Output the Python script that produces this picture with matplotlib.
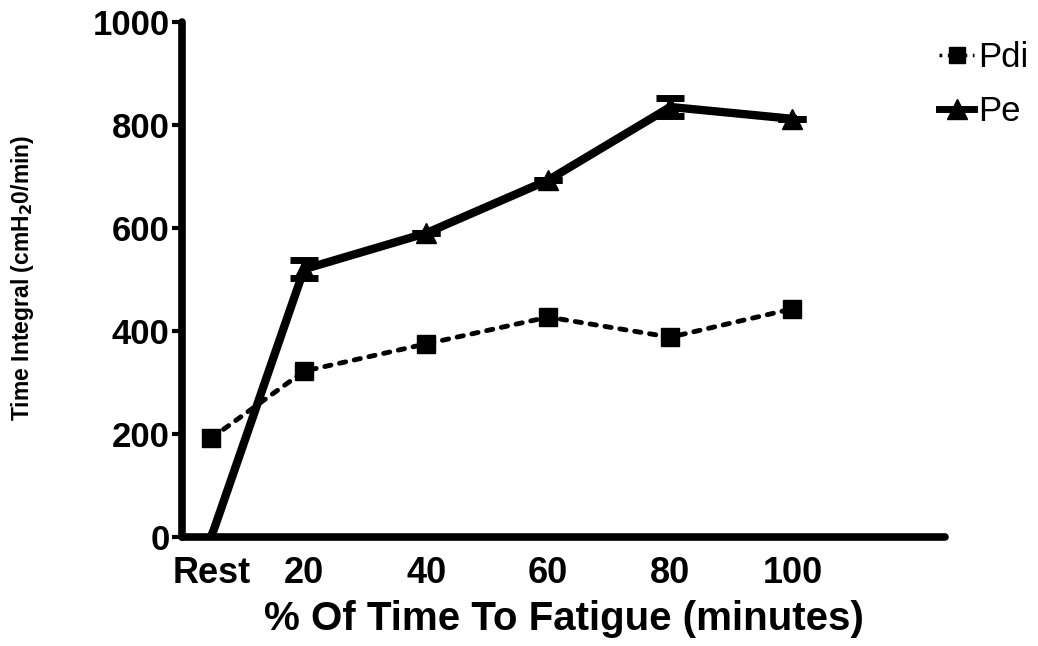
import matplotlib
matplotlib.use('Agg')
import matplotlib.pyplot as plt
from matplotlib.lines import Line2D

plt.rcParams['font.family'] = ['Liberation Sans', 'DejaVu Sans']

# data
x_labels = ['Rest', '20', '40', '60', '80', '100']
x_pos = [4.8, 20, 40, 60, 80, 100]
pdi = [192, 322, 375, 427, 388, 443]
pe = [0, 520, 590, 693, 835, 812]
pe_err = [0, 17, 0, 0, 18, 0]

fig = plt.figure(figsize=(10.38, 6.46), dpi=100)
ax = fig.add_axes([182 / 1038, 1 - 537 / 646, (945 - 182) / 1038, (537 - 22) / 646])

ax.plot(x_pos, pdi, color='black', lw=3.5, linestyle=(0, (1.3, 1.8)),
        dash_capstyle='round', marker='s', markersize=13, zorder=3)
ax.errorbar(x_pos, pe, yerr=pe_err, color='black', lw=6, marker='^', markersize=15,
            capsize=10, capthick=5, elinewidth=5, zorder=4)

ax.set_xlim(0, 125)
ax.set_ylim(0, 1000)
ax.set_yticks([0, 200, 400, 600, 800, 1000])
ax.set_xticks(x_pos)
ax.set_xticklabels(x_labels)

for side in ['top', 'right']:
    ax.spines[side].set_visible(False)
for side in ['left', 'bottom']:
    ax.spines[side].set_linewidth(5.5)
    ax.spines[side].set_capstyle('round')

ax.tick_params(axis='y', length=7, width=3, labelsize=25, pad=2)
ax.tick_params(axis='x', length=0, labelsize=26, pad=14)
for lab in ax.get_xticklabels() + ax.get_yticklabels():
    lab.set_fontweight('bold')

ax.set_xlabel('% Of Time To Fatigue (minutes)', fontsize=29, fontweight='bold', labelpad=6)
fig.text(0.022, 1 - 278 / 646, 'Time Integral (cmH$_{\\mathbf{2}}$0/min)', rotation=90,
         fontsize=16.5, fontweight='bold', va='center', ha='center')

# legend
handles = [
    Line2D([], [], color='black', lw=2.5, linestyle=(0, (0.8, 1.6)), marker='s', markersize=12),
    Line2D([], [], color='black', lw=5, marker='^', markersize=14),
]
ax.legend(handles, ['Pdi', 'Pe'], loc='upper left', bbox_to_anchor=(922 / 1038, 1 - 24 / 646),
          bbox_transform=fig.transFigure, frameon=False, fontsize=25,
          handlelength=1.0, handletextpad=0.12, labelspacing=0.6, borderpad=0)

fig.savefig('out.png', dpi=100)
